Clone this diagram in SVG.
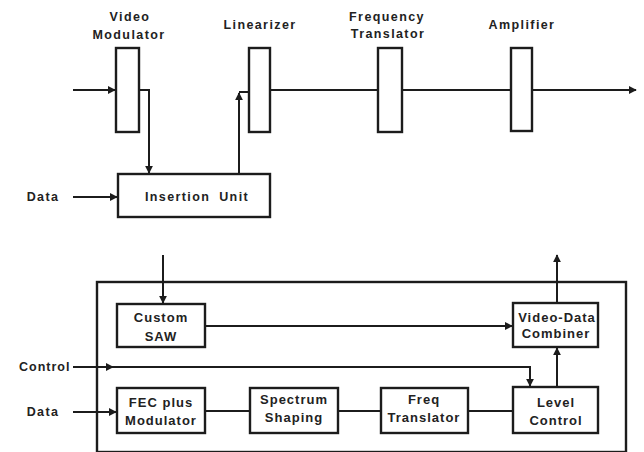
<svg xmlns="http://www.w3.org/2000/svg" width="644" height="452" viewBox="0 0 644 452">
  <defs>
    <marker id="arr" viewBox="0 0 10 10" refX="9" refY="5" markerWidth="8" markerHeight="8" markerUnits="userSpaceOnUse" orient="auto">
      <path d="M0,0 L10,5 L0,10 z" fill="#1c1c1c"/>
    </marker>
    <style>
      .box { fill: #fff; stroke: #1c1c1c; stroke-width: 2.4; }
      .ln { fill: none; stroke: #1c1c1c; stroke-width: 2; }
      .t { font-family: "Liberation Sans", Arial, sans-serif; font-weight: bold; font-size: 12.5px; fill: #222; letter-spacing: 1.4px; text-anchor: middle; }
      .b { font-size: 13px; letter-spacing: 1px; }
      .tl { text-anchor: start; }
    </style>
  </defs>
  <rect width="644" height="452" fill="#fff"/>

  <!-- connectors -->
  <g id="connectors">
    <!-- upper chain -->
    <path class="ln" d="M73,90 H115" marker-end="url(#arr)"/>
    <path class="ln" d="M139,90 H149 V173" marker-end="url(#arr)"/>
    <path class="ln" d="M73,197 H117" marker-end="url(#arr)"/>
    <path class="ln" d="M239,174 V93" marker-end="url(#arr)"/>
    <path class="ln" d="M239,92 H249"/>
    <path class="ln" d="M270,90 H378"/>
    <path class="ln" d="M402,90 H511"/>
    <path class="ln" d="M532,90 H636" marker-end="url(#arr)"/>
    <!-- lower unit -->
    <path class="ln" d="M163,255 V303" marker-end="url(#arr)"/>
    <path class="ln" d="M205,326 H512" marker-end="url(#arr)"/>
    <path class="ln" d="M73,367 H113" marker-end="url(#arr)"/>
    <path class="ln" d="M112,367 H530 V386" marker-end="url(#arr)"/>
    <path class="ln" d="M73,412 H116" marker-end="url(#arr)"/>
    <path class="ln" d="M205,411 H250"/>
    <path class="ln" d="M338,411 H381"/>
    <path class="ln" d="M468,411 H513"/>
    <path class="ln" d="M557,387 V348" marker-end="url(#arr)"/>
    <path class="ln" d="M557,303 V255" marker-end="url(#arr)"/>
  </g>

  <!-- upper chain nodes -->
  <g id="video-modulator">
    <rect class="box" x="116" y="48" width="23" height="84"/>
    <text class="t" x="130" y="21">Video</text>
    <text class="t" x="129" y="39">Modulator</text>
  </g>
  <g id="linearizer">
    <rect class="box" x="249" y="48" width="21" height="84"/>
    <text class="t" x="260" y="29">Linearizer</text>
  </g>
  <g id="frequency-translator">
    <rect class="box" x="378" y="48" width="24" height="84"/>
    <text class="t" x="387" y="21">Frequency</text>
    <text class="t" x="388" y="38">Translator</text>
  </g>
  <g id="amplifier">
    <rect class="box" x="511" y="48" width="21" height="83"/>
    <text class="t" x="522" y="29">Amplifier</text>
  </g>
  <g id="insertion-unit">
    <rect class="box" x="118" y="174" width="152" height="43"/>
    <text class="t" x="197" y="201" style="word-spacing:4px">Insertion Unit</text>
  </g>
  <g id="data-label-top">
    <text class="t" x="43" y="201">Data</text>
  </g>

  <!-- lower unit -->
  <g id="enclosure">
    <rect x="97" y="282" width="529" height="170" fill="none" stroke="#1c1c1c" stroke-width="2.4"/>
  </g>
  <g id="custom-saw">
    <rect class="box" x="117" y="304" width="88" height="43"/>
    <text class="t b" x="161" y="322">Custom</text>
    <text class="t b" x="161" y="341">SAW</text>
  </g>
  <g id="video-data-combiner">
    <rect class="box" x="513" y="303" width="85" height="44"/>
    <text class="t b" x="557" y="322">Video-Data</text>
    <text class="t b" x="556" y="338">Combiner</text>
  </g>
  <g id="fec-modulator">
    <rect class="box" x="117" y="388" width="88" height="45"/>
    <text class="t b" x="161" y="407">FEC plus</text>
    <text class="t b" x="161" y="425">Modulator</text>
  </g>
  <g id="spectrum-shaping">
    <rect class="box" x="250" y="388" width="88" height="45"/>
    <text class="t b" x="294" y="404">Spectrum</text>
    <text class="t b" x="294" y="422">Shaping</text>
  </g>
  <g id="freq-translator">
    <rect class="box" x="381" y="388" width="87" height="45"/>
    <text class="t b" x="424" y="404">Freq</text>
    <text class="t b" x="424" y="422">Translator</text>
  </g>
  <g id="level-control">
    <rect class="box" x="513" y="387" width="85" height="46"/>
    <text class="t b" x="556" y="407">Level</text>
    <text class="t b" x="556" y="425">Control</text>
  </g>
  <g id="input-labels">
    <text class="t tl" x="19" y="371" style="letter-spacing:1px">Control</text>
    <text class="t" x="43" y="416">Data</text>
  </g>
</svg>
